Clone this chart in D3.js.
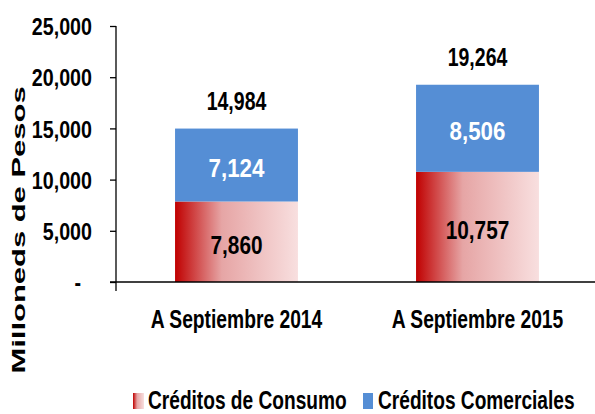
<!DOCTYPE html>
<html>
<head>
<meta charset="utf-8">
<script src="https://cdn.jsdelivr.net/npm/d3@7"></script>
<style>
  body { margin: 0; background: #fff; }
  svg text { font-family: "Liberation Sans", Arial, sans-serif; font-weight: bold; }
</style>
</head>
<body>
<div id="chart"></div>
<script>
// datos del grafico
var categorias = ["A Septiembre 2014", "A Septiembre 2015"];
var consumo = [7860, 10757];
var comerciales = [7124, 8506];
var totales = [14984, 19264];
var ticks = [0, 5000, 10000, 15000, 20000, 25000];
var series = ["Créditos de Consumo", "Créditos Comerciales"];

var width = 595, height = 414;

var svg = d3.select("#chart")
  .append("svg")
  .attr("width", width)
  .attr("height", height);

// comprime el texto en horizontal (fuente estrecha) con una escala
function narrow(sel, k, rot) {
  sel.each(function () {
    var t = d3.select(this);
    var tx = +t.attr("x") || 0, ty = +t.attr("y") || 0;
    t.attr("x", null).attr("y", null)
      .attr("transform", "translate(" + tx + "," + ty + ")" + (rot ? " rotate(" + rot + ")" : "") + " scale(" + k + ",1)");
  });
}

// gradiente rojo
var defs = svg.append("defs");
var grad = defs.append("linearGradient")
  .attr("id", "rojo")
  .attr("x1", "0%").attr("x2", "100%")
  .attr("y1", "0%").attr("y2", "0%");
grad.append("stop").attr("offset", "0%").attr("stop-color", "#C00000");
grad.append("stop").attr("offset", "38%").attr("stop-color", "#E6A5A5");
grad.append("stop").attr("offset", "100%").attr("stop-color", "#F8DFDF");

var x = d3.scaleBand().domain(categorias).range([116, 598]).paddingInner(0.49).paddingOuter(0.245);
var y = d3.scaleLinear().domain([0, 25000]).range([282, 26]);

var fmt = d3.format(",");
var cx = function (d) { return x(d) + x.bandwidth() / 2; };

// barras consumo
svg.selectAll(".consumo")
  .data(categorias)
  .enter()
  .append("rect")
  .attr("x", function (d) { return x(d); })
  .attr("width", x.bandwidth())
  .attr("y", function (d, i) { return y(consumo[i]); })
  .attr("height", function (d, i) { return y(0) - y(consumo[i]); })
  .attr("fill", "url(#rojo)");

// barras comerciales
svg.selectAll(".comercial")
  .data(categorias)
  .enter()
  .append("rect")
  .attr("x", function (d) { return x(d); })
  .attr("width", x.bandwidth())
  .attr("y", function (d, i) { return y(consumo[i] + comerciales[i]); })
  .attr("height", function (d, i) { return y(consumo[i]) - y(consumo[i] + comerciales[i]); })
  .attr("fill", "#558ED5");

// etiquetas de los segmentos
svg.selectAll(".lbl-cons")
  .data(categorias)
  .enter()
  .append("text")
  .attr("x", cx)
  .attr("y", function (d, i) { return (y(0) + y(consumo[i])) / 2 + 12; })
  .attr("text-anchor", "middle")
  .attr("font-size", "26px")
  .attr("fill", "#000")
  .text(function (d, i) { return fmt(consumo[i]); })
  .call(narrow, 0.8);

svg.selectAll(".lbl-com")
  .data(categorias)
  .enter()
  .append("text")
  .attr("x", cx)
  .attr("y", function (d, i) { return (y(consumo[i]) + y(consumo[i] + comerciales[i])) / 2 + 12; })
  .attr("text-anchor", "middle")
  .attr("font-size", "26px")
  .attr("fill", "#fff")
  .text(function (d, i) { return fmt(comerciales[i]); })
  .call(narrow, 0.86);

svg.selectAll(".lbl-tot")
  .data(categorias)
  .enter()
  .append("text")
  .attr("x", cx)
  .attr("y", function (d, i) { return y(totales[i]) - 19; })
  .attr("text-anchor", "middle")
  .attr("font-size", "25px")
  .attr("fill", "#000")
  .text(function (d, i) { return fmt(totales[i]); })
  .call(narrow, 0.78);

// eje y
var yAxis = svg.append("g")
  .attr("transform", "translate(116,0)")
  .call(d3.axisLeft(y).tickValues(ticks).tickSize(6).tickPadding(18)
    .tickFormat(function (d) { return d === 0 ? "-" : fmt(d); }));
yAxis.select(".domain").attr("d", "M0," + y(25000) + "V291").attr("stroke", "#000").attr("stroke-width", 1.3);
yAxis.selectAll(".tick line").attr("stroke", "#000").attr("stroke-width", 1.3);
yAxis.selectAll(".tick text")
  .attr("font-size", "24px").attr("fill", "#000").attr("font-family", null)
  .attr("dy", "0.36em")
  .attr("x", function (d) { return d === 0 ? -35 : -24; })
  .call(narrow, 0.82);

// eje x
svg.append("line")
  .attr("x1", 110).attr("x2", 595)
  .attr("y1", y(0)).attr("y2", y(0))
  .attr("stroke", "#000").attr("stroke-width", 1.6);

svg.selectAll(".cat")
  .data(categorias)
  .enter()
  .append("text")
  .attr("x", cx)
  .attr("y", 328)
  .attr("text-anchor", "middle")
  .attr("font-size", "25px")
  .attr("fill", "#000")
  .text(function (d) { return d; })
  .call(narrow, 0.77);

// titulo eje y
svg.append("text")
  .attr("x", 25)
  .attr("y", 230)
  .attr("text-anchor", "middle")
  .attr("font-size", "18px")
  .attr("fill", "#000")
  .text("Milloneds de Pesos")
  .call(narrow, 1.72, -90);

// leyenda
var leyenda = svg.selectAll(".ley")
  .data(series)
  .enter()
  .append("g")
  .attr("transform", function (d, i) { return "translate(" + (i === 0 ? 133 : 363) + ",393)"; });
leyenda.append("rect")
  .attr("width", function (d, i) { return i === 0 ? 11 : 10; })
  .attr("height", 16)
  .attr("fill", function (d, i) { return i === 0 ? "url(#rojo)" : "#558ED5"; });
leyenda.append("text")
  .attr("x", 15)
  .attr("y", 16)
  .attr("font-size", "25px")
  .attr("fill", "#000")
  .text(function (d) { return d; })
  .call(narrow, 0.765);
</script>
</body>
</html>
